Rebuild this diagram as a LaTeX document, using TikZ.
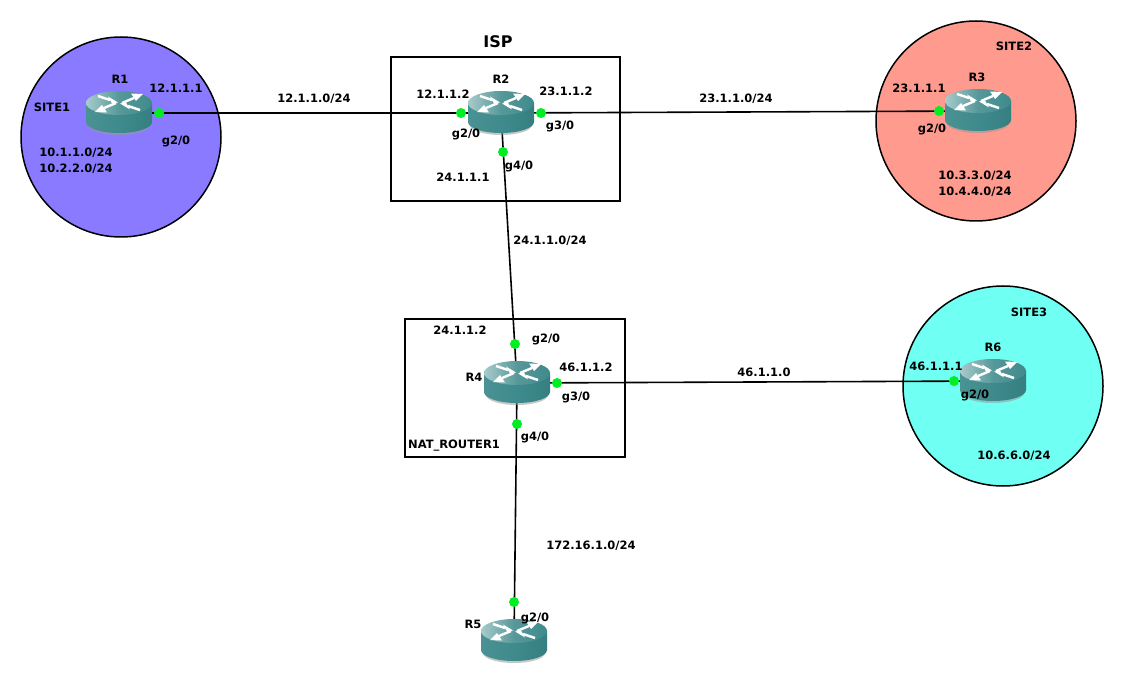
\documentclass[tikz,border=0pt]{standalone}
\usepackage{fontspec}
\setmainfont{DejaVu Sans}
\usetikzlibrary{shadings}
\definecolor{siteA}{HTML}{8A7AFF}
\definecolor{siteB}{HTML}{FF9A8E}
\definecolor{siteC}{HTML}{6FFFF3}
\definecolor{teal1}{HTML}{3F8A8C}
\definecolor{teal2}{HTML}{357F81}
\definecolor{teal3}{HTML}{4A9294}
\definecolor{dotg}{HTML}{00EE22}
\tikzset{
  site/.style={draw=black,line width=1.5pt,circle,minimum size=200pt,inner sep=0pt},
  zone/.style={draw=black,line width=1.5pt,fill=none},
  link/.style={draw=black,line width=1.6pt},
  port/.style={circle,fill=dotg,draw=none,minimum size=10pt,inner sep=0pt},
  lab/.style={font=\fontsize{11.5}{13}\selectfont\bfseries,text=black,inner sep=0pt,yshift=-1pt},
  rt/.style={coordinate},
  router/.pic={
    \fill[black!40,opacity=.55] (-31,-5) -- (-31,12) arc[x radius=31,y radius=10,start angle=180,end angle=0] -- (31,-5) -- cycle;
    \path[left color=teal3,right color=teal2,middle color=teal1] (-33,-10) -- (-33,9) arc[x radius=33,y radius=11,start angle=180,end angle=0] -- (33,-10) -- cycle;
    \path[left color=teal1!45!white,right color=teal1,middle color=teal1!88!white] (0,-10) ellipse[x radius=33,y radius=12];
    \draw[white,line width=2.4pt] (3,-10) -- (15,-15) (-3,-10) -- (-15,-5) (-21,-17) -- (-9,-13) (21,-3) -- (9,-7);
    \fill[white] (24,-19) -- (12,-19.5) -- (17,-12) -- cycle;
    \fill[white] (-24,-1) -- (-12,-0.5) -- (-17,-8) -- cycle;
    \fill[white] (-1,-10.5) -- (-11,-16.5) -- (-7,-9.5) -- cycle;
    \fill[white] (1,-9.5) -- (11,-3.5) -- (7,-10.5) -- cycle;
  }
}
\begin{document}
\begin{tikzpicture}[x=1pt,y=-1pt]
\useasboundingbox (0,0) rectangle (1124,684);
\fill[white] (0,0) rectangle (1124,684);
\node[site,fill=siteA] (site1) at (121,137) {};
\node[site,fill=siteB] (site2) at (976,121) {};
\node[site,fill=siteC] (site3) at (1003,386) {};
\draw[zone] (391,57) rectangle (620,201);
\draw[zone] (405,319) rectangle (625,457);
\node[rt] (R1) at (119,113) {};
\node[rt] (R2) at (501,113) {};
\node[rt] (R3) at (978,111) {};
\node[rt] (R4) at (517,383) {};
\node[rt] (R5) at (514,641) {};
\node[rt] (R6) at (993,381) {};
\draw[link] (R1) -- (R2);
\draw[link] (R2) -- (R3);
\draw[link] (R2) -- (R4);
\draw[link] (R4) -- (R6);
\draw[link] (R4) -- (R5);
\foreach \r in {R1,R2,R3,R4,R5,R6} \pic at (\r) {router};
\node[port] (p1) at (159,113) {};
\node[port] (p2a) at (461,113) {};
\node[port] (p2b) at (541,113) {};
\node[port] (p2c) at (503,152) {};
\node[port] (p3) at (939,111) {};
\node[port] (p4a) at (515,344) {};
\node[port] (p4b) at (557,383) {};
\node[port] (p4c) at (517,424) {};
\node[port] (p5) at (514,602) {};
\node[port] (p6) at (954,381) {};
% labels
\node[lab,font=\fontsize{16}{18}\selectfont\bfseries] (isp) at (498,41) {ISP};
\foreach \x/\y/\t in {
 120/78/R1, 501/78/R2, 977/76/R3, 474/376/R4, 473/623/R5, 993/346/R6,
 52/106/SITE1, 1014/45/SITE2, 1029/311/SITE3,
 176/87/{12.1.1.1}, 176/140/{g2/0}, 76/152/{10.1.1.0/24}, 76/168/{10.2.2.0/24},
 314/98/{12.1.1.0/24},
 443/93/{12.1.1.2}, 466/133/{g2/0}, 566/90/{23.1.1.2}, 560/125/{g3/0}, 519/165/{g4/0}, 463/176/{24.1.1.1},
 736/98/{23.1.1.0/24},
 919/87/{23.1.1.1}, 932/128/{g2/0}, 975/175/{10.3.3.0/24}, 975/191/{10.4.4.0/24},
 550/240/{24.1.1.0/24},
 460/329/{24.1.1.2}, 546/338/{g2/0}, 586/366/{46.1.1.2}, 576/396/{g3/0}, 535/436/{g4/0}, 454/445/{NAT\_ROUTER1},
 764/371/{46.1.1.0},
 936/365/{46.1.1.1}, 975/394/{g2/0}, 1014/455/{10.6.6.0/24},
 591/545/{172.16.1.0/24}, 535/617/{g2/0}
}{ \node[lab] at (\x,\y) {\t}; }
\end{tikzpicture}
\end{document}
